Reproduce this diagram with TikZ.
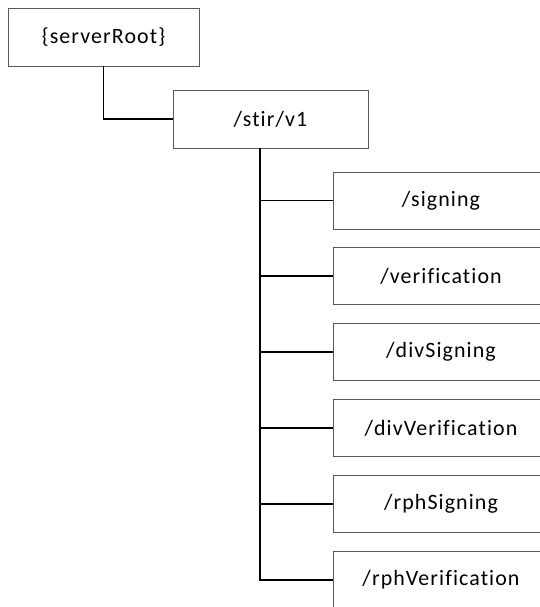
\documentclass[tikz,border=0pt]{standalone}
\usepackage{fontspec}
\setmainfont[Ligatures=NoCommon, LetterSpace=5]{Carlito}
\usepackage{tikz}

\begin{document}
\begin{tikzpicture}
            [x=1bp, y=-1bp, line width=1.4bp,
             box/.style={draw=black!65, line width=0.8bp, fill=white, inner sep=0pt,
                         font=\fontsize{22}{26}\selectfont},
             rootbox/.style={box, minimum width=191bp, minimum height=58bp},
             verbox/.style={box, minimum width=195bp, minimum height=58bp},
             leafbox/.style={box, minimum width=216bp, minimum height=57bp}]
            \useasboundingbox (0, 0) rectangle (540, 607);
            \clip (0, 0) rectangle (540, 607);
            \node [rootbox] (root) at (103.5, 37) {\{serverRoot\}};
            \node [verbox] (stir) at (270.5, 119) {/stir/v1};
            \coordinate (trunk) at (260, 148);
            \node [leafbox] (sign) at (441, 200.5) {/signing};
            \node [leafbox] (verif) at (441, 276) {/verification};
            \node [leafbox] (divsign) at (441, 352) {/divSigning};
            \node [leafbox] (divverif) at (441, 428) {/divVerification};
            \node [leafbox] (rphsign) at (441, 504) {/rphSigning};
            \node [leafbox] (rphverif) at (441, 580) {/rphVerification};
            \draw (root.south) |- (stir.west);
            \draw [line width=2.4bp] (trunk) -- (trunk |- divverif.west);
            \draw (trunk) |- (sign.west);
            \draw (trunk) |- (verif.west);
            \draw (trunk) |- (divsign.west);
            \draw (trunk) |- (divverif.west);
            \draw (trunk) |- (rphsign.west);
            \draw (trunk) |- (rphverif.west);
        \end{tikzpicture}
\end{document}
